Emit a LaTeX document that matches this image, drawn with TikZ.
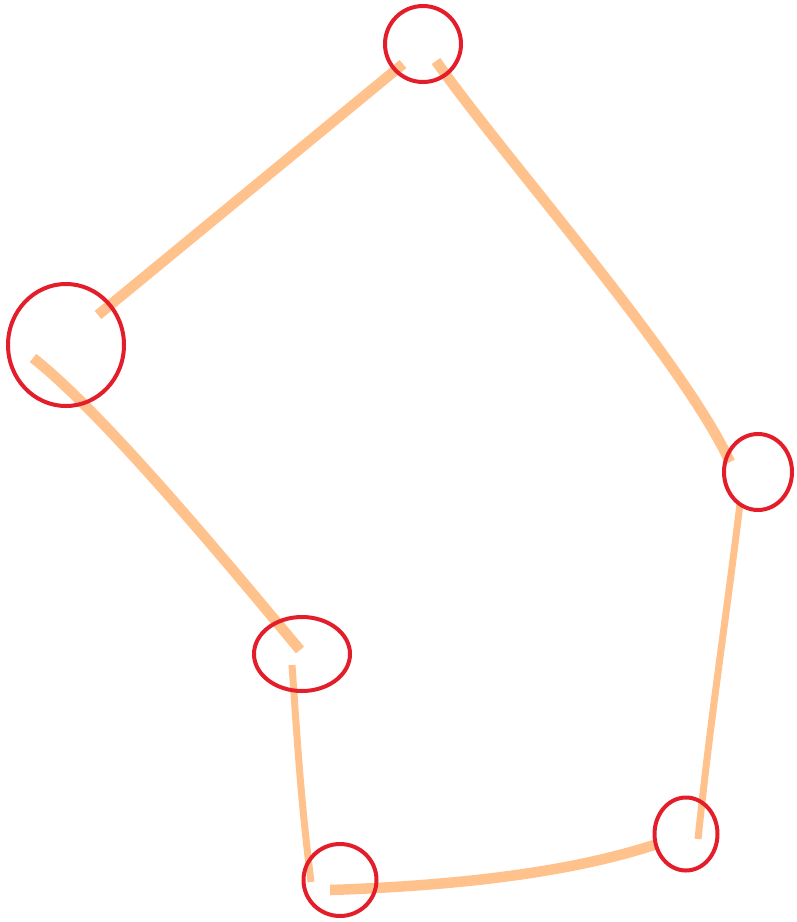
\documentclass[tikz,border=0pt]{standalone}
\usepackage{xcolor}
\definecolor{sketchRed}{HTML}{E31E2A}
\definecolor{sketchOrange}{HTML}{FFC28C}
\usepackage{tikz}
\usetikzlibrary{shapes.geometric,backgrounds,calc}
\tikzset{
    spot/.style={
        draw=sketchRed,
        ellipse,
        line width=4pt,
        inner sep=0pt
    },
    link/.style={
        draw=sketchOrange,
        line width=10.5pt,
        line cap=butt
    },
    thinlink/.style={
        draw=sketchOrange,
        line width=7pt,
        line cap=butt
    }
}

\begin{document}
\begin{tikzpicture}[x=1pt, y=-1pt]
    \useasboundingbox (0,0) rectangle (797,922);

    % Spots
    \node[spot, minimum width=76pt, minimum height=76pt] (top) at (423,44) {};
    \node[spot, minimum width=116pt, minimum height=122pt] (left) at (66,345) {};
    \node[spot, minimum width=96pt, minimum height=74pt] (midleft) at (302,654) {};
    \node[spot, minimum width=73pt, minimum height=72pt] (botleft) at (340,880) {};
    \node[spot, minimum width=63pt, minimum height=73pt] (botright) at (686,834) {};
    \node[spot, minimum width=68pt, minimum height=76pt] (right) at (758,472) {};

    % Links
    \begin{scope}[on background layer]
        \draw[link] ([shift={(-20,20)}]top.center) -- ([shift={(32,-30)}]left.center);
        \draw[link] ([shift={(13,17)}]top.center) to[out=-55, in=115, looseness=0.6] ([shift={(-28,-10)}]right.center);
        \draw[link] ([shift={(-33,13)}]left.center) to[out=-38, in=130, looseness=0.6] ([shift={(-2,-4)}]midleft.center);
        \draw[thinlink] ([shift={(-10,11)}]midleft.center) to[out=-86, in=97] ([shift={(-29,2)}]botleft.center);
        \draw[link] ([shift={(-10,10)}]botleft.center) to[out=2, in=-162, looseness=0.8] ([shift={(-32,11)}]botright.center);
        \draw[thinlink] ([shift={(12,5)}]botright.center) to[out=84, in=-97] ([shift={(-18,32)}]right.center);
    \end{scope}
\end{tikzpicture}
\end{document}
